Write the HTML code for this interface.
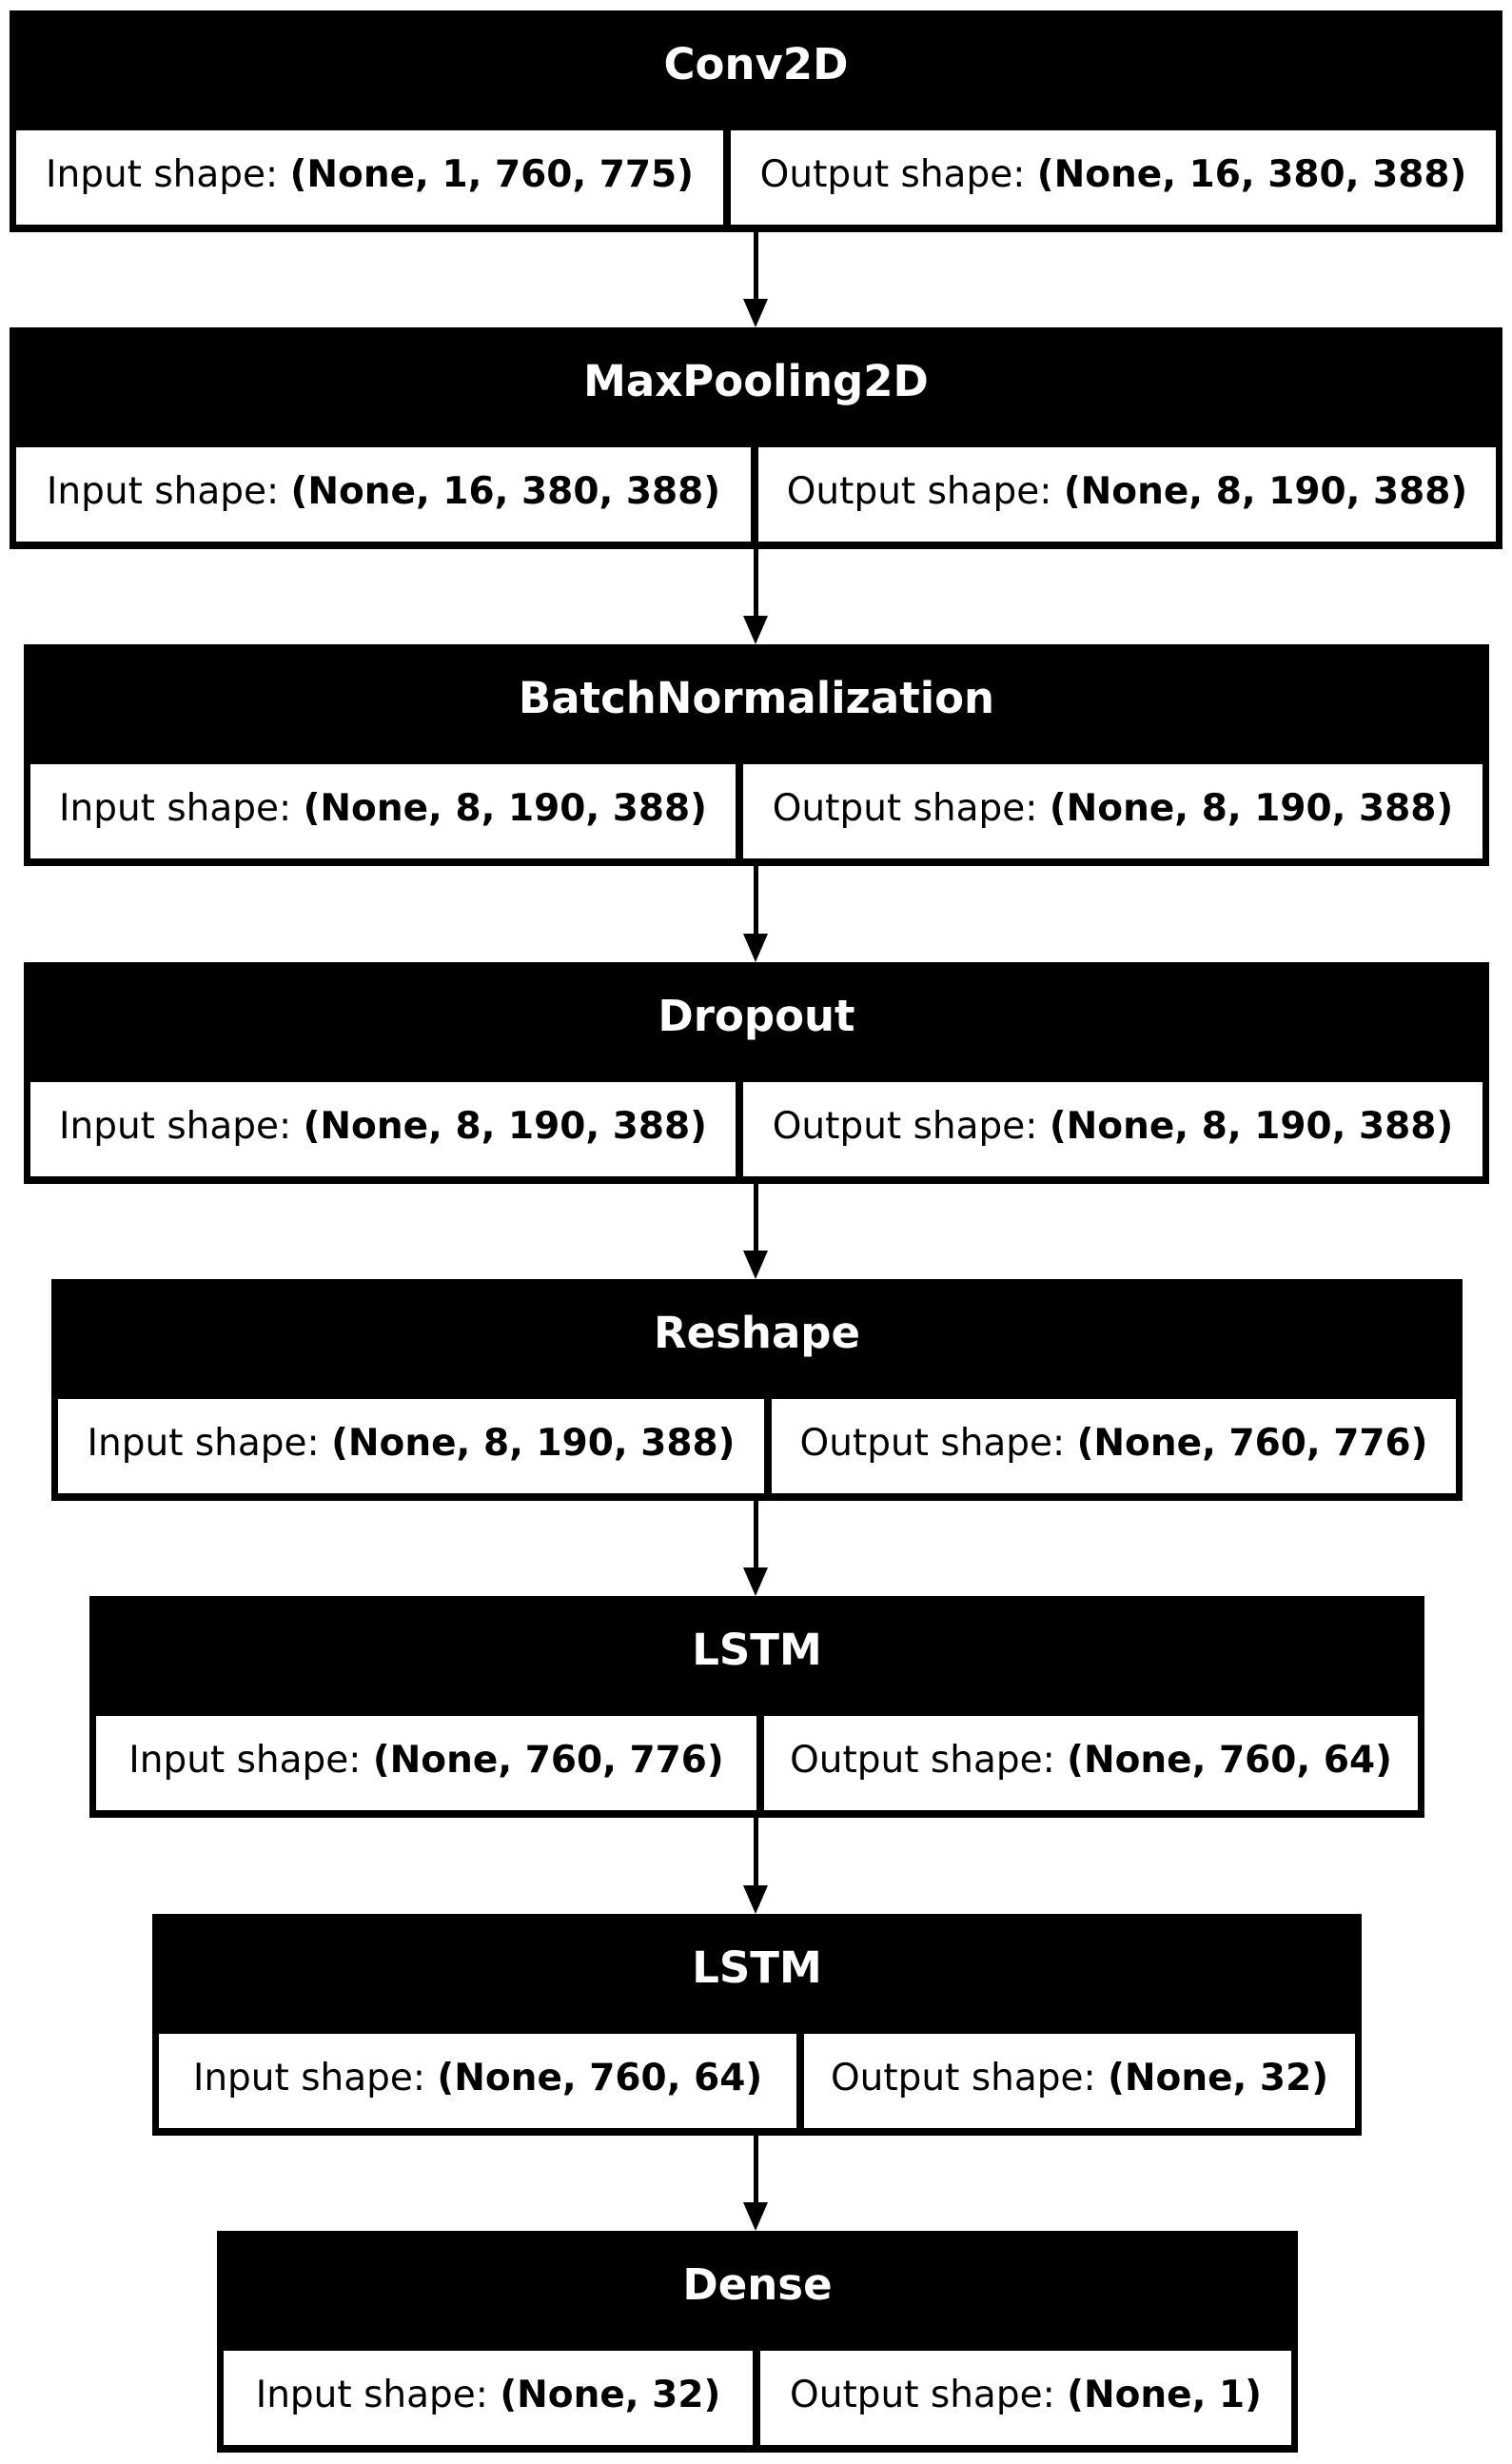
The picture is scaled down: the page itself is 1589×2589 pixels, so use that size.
<!DOCTYPE html>
<html><head><meta charset="utf-8"><style>
html,body{margin:0;padding:0;background:#fff;}
body{width:1589px;height:2589px;position:relative;overflow:hidden;font-family:"DejaVu Sans","Liberation Sans",sans-serif;}
.n{position:absolute;background:#000;height:233px;}
.t{position:absolute;left:0;right:0;top:32px;text-align:center;color:#fff;font-weight:bold;font-size:45px;line-height:50px;}
.c{position:absolute;top:126px;height:99px;background:#fff;font-size:39px;line-height:93px;text-align:center;white-space:nowrap;color:#000;}
.c b{font-weight:bold;}
.l{position:absolute;width:5px;background:#000;}
.a{position:absolute;width:0;height:0;border-left:13.5px solid transparent;border-right:13.5px solid transparent;border-top:30px solid #000;}
</style></head><body>

<div class="n" style="left:10px;top:11px;width:1569px;">
<div class="t">Conv2D</div>
<div class="c" style="left:7px;width:743px;">Input shape: <b>(None, 1, 760, 775)</b></div>
<div class="c" style="left:758px;width:804px;">Output shape: <b>(None, 16, 380, 388)</b></div>
</div>

<div class="n" style="left:10px;top:344px;width:1569px;">
<div class="t">MaxPooling2D</div>
<div class="c" style="left:7px;width:772px;">Input shape: <b>(None, 16, 380, 388)</b></div>
<div class="c" style="left:787px;width:775px;">Output shape: <b>(None, 8, 190, 388)</b></div>
</div>

<div class="n" style="left:25px;top:677px;width:1540px;">
<div class="t">BatchNormalization</div>
<div class="c" style="left:7px;width:741px;">Input shape: <b>(None, 8, 190, 388)</b></div>
<div class="c" style="left:756px;width:777px;">Output shape: <b>(None, 8, 190, 388)</b></div>
</div>

<div class="n" style="left:25px;top:1011px;width:1540px;">
<div class="t">Dropout</div>
<div class="c" style="left:7px;width:741px;">Input shape: <b>(None, 8, 190, 388)</b></div>
<div class="c" style="left:756px;width:777px;">Output shape: <b>(None, 8, 190, 388)</b></div>
</div>

<div class="n" style="left:54px;top:1344px;width:1483px;">
<div class="t">Reshape</div>
<div class="c" style="left:7px;width:742px;">Input shape: <b>(None, 8, 190, 388)</b></div>
<div class="c" style="left:757px;width:719px;">Output shape: <b>(None, 760, 776)</b></div>
</div>

<div class="n" style="left:94px;top:1677px;width:1403px;">
<div class="t">LSTM</div>
<div class="c" style="left:7px;width:694px;">Input shape: <b>(None, 760, 776)</b></div>
<div class="c" style="left:709px;width:687px;">Output shape: <b>(None, 760, 64)</b></div>
</div>

<div class="n" style="left:160px;top:2011px;width:1271px;">
<div class="t">LSTM</div>
<div class="c" style="left:7px;width:670px;">Input shape: <b>(None, 760, 64)</b></div>
<div class="c" style="left:685px;width:579px;">Output shape: <b>(None, 32)</b></div>
</div>

<div class="n" style="left:228px;top:2344px;width:1136px;">
<div class="t">Dense</div>
<div class="c" style="left:7px;width:556px;">Input shape: <b>(None, 32)</b></div>
<div class="c" style="left:571px;width:558px;">Output shape: <b>(None, 1)</b></div>
</div>

<div class="l" style="left:792px;top:244px;height:72px;"></div><div class="a" style="left:781px;top:314px;"></div>
<div class="l" style="left:792px;top:577px;height:72px;"></div><div class="a" style="left:781px;top:647px;"></div>
<div class="l" style="left:792px;top:910px;height:72px;"></div><div class="a" style="left:781px;top:981px;"></div>
<div class="l" style="left:792px;top:1244px;height:72px;"></div><div class="a" style="left:781px;top:1314px;"></div>
<div class="l" style="left:792px;top:1577px;height:72px;"></div><div class="a" style="left:781px;top:1647px;"></div>
<div class="l" style="left:792px;top:1910px;height:72px;"></div><div class="a" style="left:781px;top:1981px;"></div>
<div class="l" style="left:792px;top:2244px;height:72px;"></div><div class="a" style="left:781px;top:2314px;"></div>

</body></html>
